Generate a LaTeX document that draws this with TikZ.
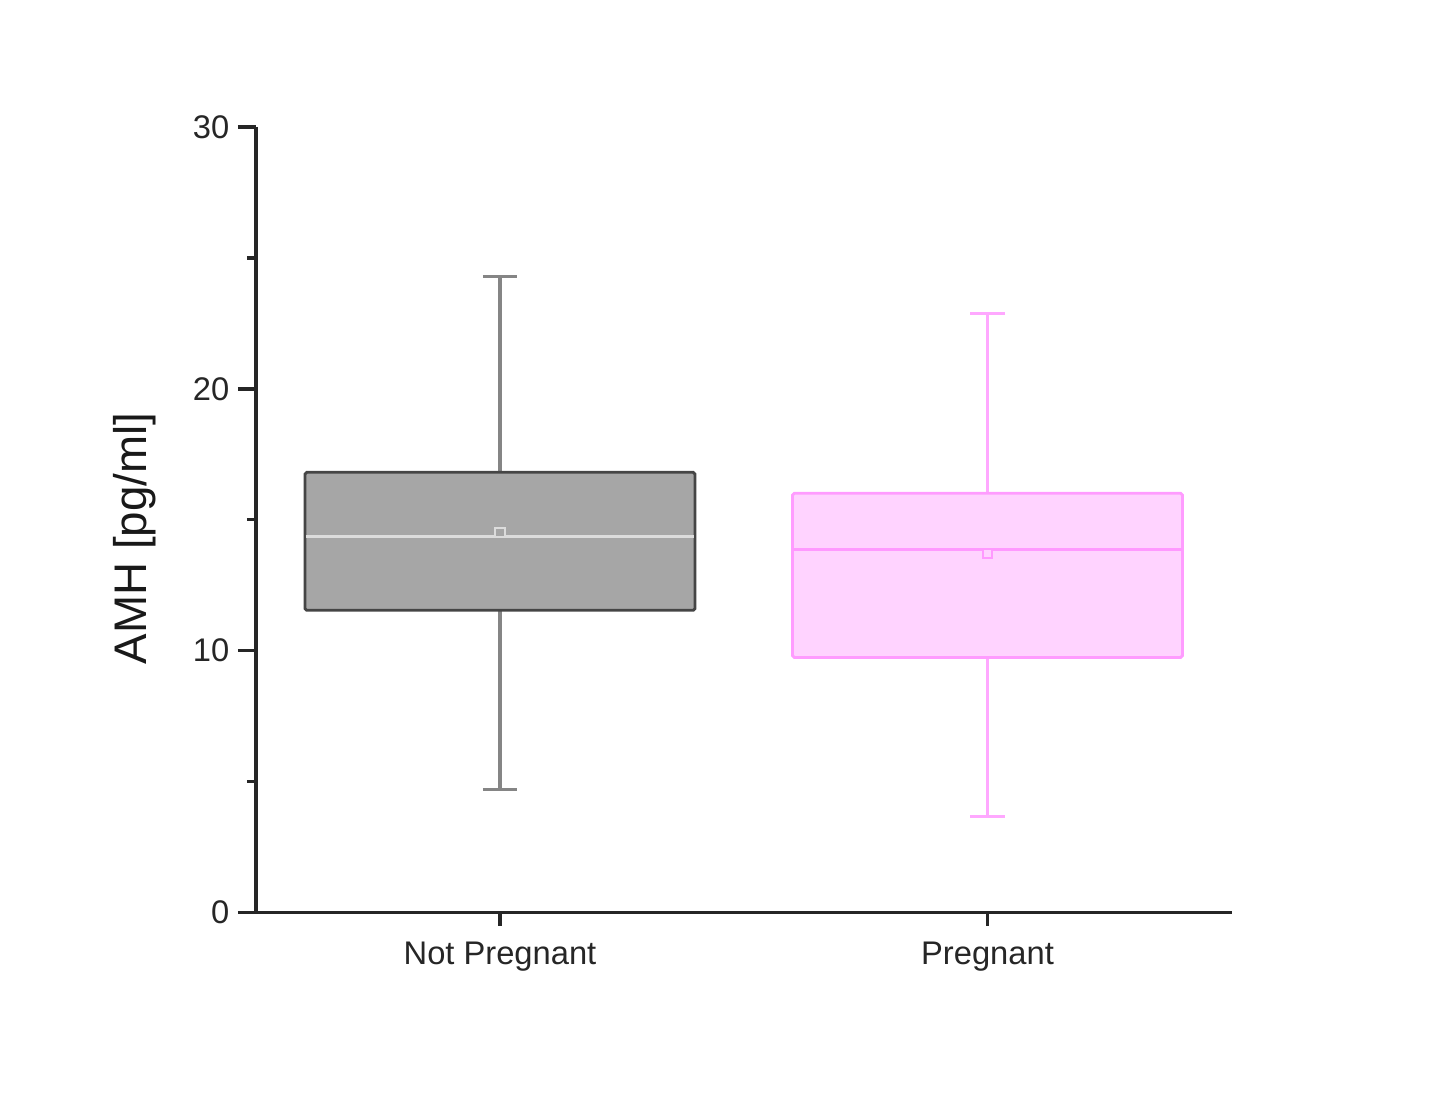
\documentclass[tikz,border=0pt]{standalone}
\usepackage{fontspec}
\setmainfont{Liberation Sans}
\definecolor{npfill}{HTML}{A6A6A6}
\definecolor{npdraw}{HTML}{454545}
\definecolor{npwhisk}{HTML}{858585}
\definecolor{npmed}{HTML}{DCDCDC}
\definecolor{pgfill}{HTML}{FFD3FF}
\definecolor{pgdraw}{HTML}{FF9CFF}
\definecolor{pgwhisk}{HTML}{FFA8FF}
\definecolor{pgmed}{HTML}{FF99FF}

\begin{document}
\begin{tikzpicture}[x=0.01cm,y=0.2617cm,
    axis/.style={line width=1.1pt,black!85},
    tick/.style={line width=1pt,black!85},
    ticklab/.style={font=\fontsize{9.3}{11}\selectfont,text=black!85,anchor=east,inner sep=0pt},
    catlab/.style={font=\fontsize{9.3}{11}\selectfont,text=black!85,inner sep=0pt},
    meanmark/.style={draw,rectangle,minimum size=2.6pt,inner sep=0pt,line width=0.6pt}]
  \path[use as bounding box] (-256,-7.069) rectangle (1179,34.848);
  % axes
  \coordinate (orig) at (0,0);
  \coordinate (ytop) at (0,30);
  \coordinate (xend) at (976,0);
  \draw[axis] (ytop) -- (orig) -- (xend);
  \foreach \v in {0,10,20,30}{
    \draw[tick] (-18,\v) -- (0,\v);
    \node[ticklab] (yl\v) at (-26,\v) {\v};
  }
  \foreach \v in {5,15,25}
    \draw[tick] (-9,\v) -- (0,\v);
  \node[font=\fontsize{13}{15}\selectfont,rotate=90,text=black!90] (ylab) at (-121,14.29) {AMH [pg/ml]};
  % boxes
  \foreach \name/\xc/\lo/\qa/\md/\qb/\hi/\mn/\fc/\dc/\wc/\mc/\lab in
      {np/244/4.70/11.54/14.37/16.81/24.30/14.52/npfill/npdraw/npwhisk/npmed/Not Pregnant,
       pg/731.5/3.67/9.74/13.87/16.01/22.89/13.72/pgfill/pgdraw/pgwhisk/pgmed/Pregnant}{
    \coordinate (\name-hi) at (\xc,\hi);
    \coordinate (\name-lo) at (\xc,\lo);
    \draw[\wc,line width=0.9pt] (\name-lo) -- (\name-hi);
    \draw[\wc,line width=0.9pt] ([xshift=-0.17cm]\name-hi) -- ([xshift=0.17cm]\name-hi);
    \draw[\wc,line width=0.9pt] ([xshift=-0.17cm]\name-lo) -- ([xshift=0.17cm]\name-lo);
    \draw[\dc,fill=\fc,line width=0.8pt,rounded corners=0.5pt] (\xc-195,\qa) rectangle (\xc+195,\qb);
    \draw[\mc,line width=0.9pt] (\xc-194,\md) -- (\xc+194,\md);
    \node[meanmark,draw=\mc,fill=\fc] (\name-mean) at (\xc,\mn) {};
    \draw[tick] (\xc,0) -- (\xc,-0.5);
    \node[catlab] (\name-lab) at (\xc,-1.68) {\lab};
  }
\end{tikzpicture}
\end{document}
